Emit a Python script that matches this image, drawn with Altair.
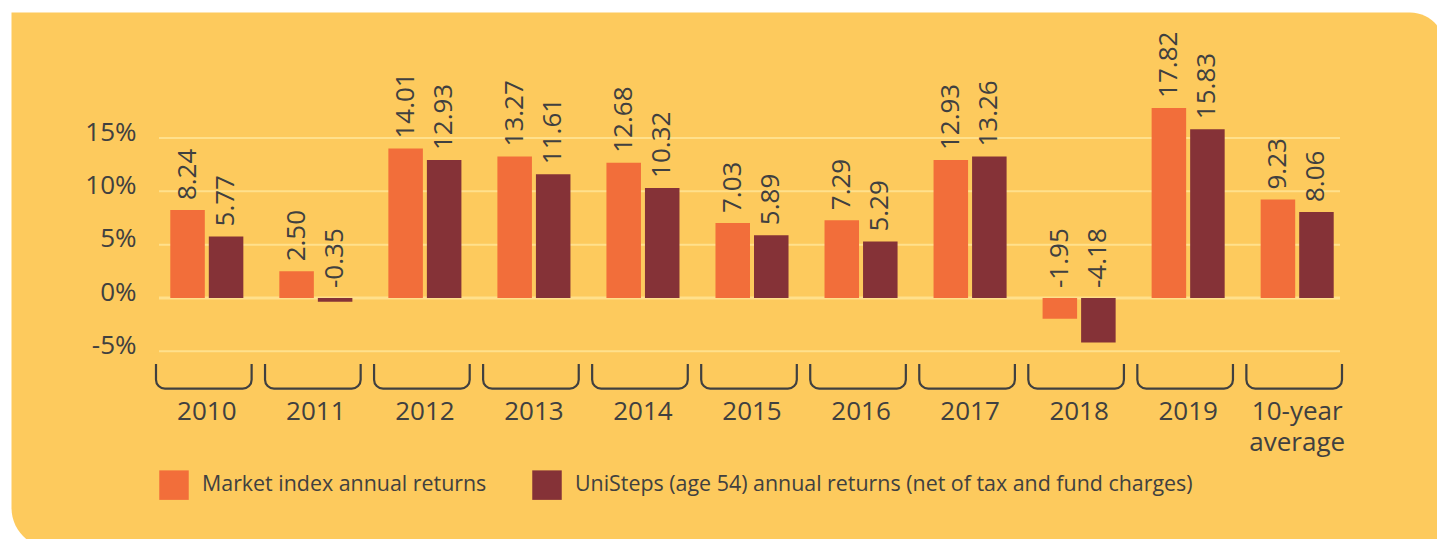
import altair as alt
import pandas as pd

categories = ["2010", "2011", "2012", "2013", "2014", "2015", "2016", "2017", "2018", "2019", "10-year average"]
market = [8.24, 2.50, 14.01, 13.27, 12.68, 7.03, 7.29, 12.93, -1.95, 17.82, 9.23]
unisteps = [5.77, -0.35, 12.93, 11.61, 10.32, 5.89, 5.29, 13.26, -4.18, 15.83, 8.06]
series_names = ["Market index annual returns",
                "UniSteps (age 54) annual returns (net of tax and fund charges)"]
series_colors = ["#F26E3A", "#853237"]
y_ticks = [-5, 0, 5, 10, 15]

rows = []
for c, m, u in zip(categories, market, unisteps):
    rows.append({"cat": c, "series": series_names[0], "value": m, "label": f"{m:.2f}"})
    rows.append({"cat": c, "series": series_names[1], "value": u, "label": f"{u:.2f}"})
df = pd.DataFrame(rows)
cat_df = pd.DataFrame({"cat": categories})
tick_df = pd.DataFrame({"tick": y_ticks})
one_df = pd.DataFrame({"a": [1]})

W, H = 1186, 320
PAD_L, PAD_T = 159, 42
FONT = "Open Sans"
TXT = "#404040"
YELLOW = "#FDCA5D"
GRID = "#FFE08C"

x_enc = alt.X(
    "cat:N", sort=categories, title=None,
    scale=alt.Scale(paddingInner=0.123, paddingOuter=0),
    axis=alt.Axis(labelExpr="split(datum.label, ' ')", labelAngle=0, labelFontSize=26,
                  labelFont=FONT, labelColor=TXT, labelPadding=36, labelBaseline="top",
                  labelLineHeight=31, domain=False, ticks=False, grid=False, zindex=1),
)
y_scale = alt.Scale(domain=[-6, 24], nice=False, zero=False)
y_axis = alt.Axis(values=y_ticks, labelExpr="datum.value + '%'", labelFontSize=26,
                  labelFont=FONT, labelColor=TXT, labelPadding=23, labelOffset=-6,
                  domain=False, ticks=False, grid=False, zindex=1)
xoff = alt.XOffset("series:N", sort=series_names,
                   scale=alt.Scale(paddingInner=0.104, paddingOuter=0.293))

panel = alt.Chart(one_df).mark_rect(
    color=YELLOW, cornerRadiusTopRight=35, cornerRadiusBottomLeft=40
).encode(
    x=alt.value(11.5 - PAD_L), x2=alt.value(1445 - PAD_L),
    y=alt.value(12.5 - PAD_T), y2=alt.value(548 - PAD_T),
)

grid = alt.Chart(tick_df).mark_rule(color=GRID).encode(
    y=alt.Y("tick:Q", scale=y_scale, axis=y_axis, title=None),
    x=alt.value(0), x2=alt.value(1181),
    strokeWidth=alt.condition("datum.tick == 0", alt.value(3), alt.value(2)),
)

brackets = alt.Chart(cat_df).mark_rect(
    fill=YELLOW, fillOpacity=0, stroke=TXT, strokeWidth=2.2,
    cornerRadiusBottomLeft=9, cornerRadiusBottomRight=9,
).encode(
    x=x_enc, xOffset=alt.value(-3), y=alt.value(316), y2=alt.value(346.7),
)

cover = alt.Chart(one_df).mark_rect(color=YELLOW).encode(
    x=alt.value(-10), x2=alt.value(W + 10), y=alt.value(311.5), y2=alt.value(322),
)

bars = alt.Chart(df).mark_bar().encode(
    x=x_enc,
    xOffset=xoff,
    y=alt.Y("value:Q", scale=y_scale, axis=y_axis, title=None),
    color=alt.Color(
        "series:N", sort=series_names,
        scale=alt.Scale(domain=series_names, range=series_colors),
        legend=alt.Legend(orient="none", legendX=0, legendY=428, direction="horizontal",
                          title=None, symbolType="square", symbolSize=870,
                          symbolStrokeWidth=0, symbolOpacity=1, labelFontSize=21.4,
                          labelFont=FONT, labelColor=TXT, labelOffset=13,
                          columnPadding=45, labelLimit=0, padding=0),
    ),
)

labels = alt.Chart(df).transform_calculate(
    label_y="max(datum.value, 0)"
).mark_text(
    angle=270, align="left", baseline="middle", dx=10, fontSize=26, font=FONT, color=TXT
).encode(
    x=x_enc,
    xOffset=xoff,
    y=alt.Y("label_y:Q", scale=y_scale, axis=y_axis, title=None),
    text=alt.Text("label:N"),
)

chart = alt.layer(panel, grid, brackets, cover, bars, labels).properties(
    width=W, height=H,
    autosize=alt.AutoSizeParams(type="none"),
    padding={"left": PAD_L, "top": PAD_T, "right": 1437 - PAD_L - W, "bottom": 539 - PAD_T - H},
).configure(background="#ffffff").configure_view(stroke=None)

chart.save("out.html", embed_options={"renderer": "svg", "actions": False})
